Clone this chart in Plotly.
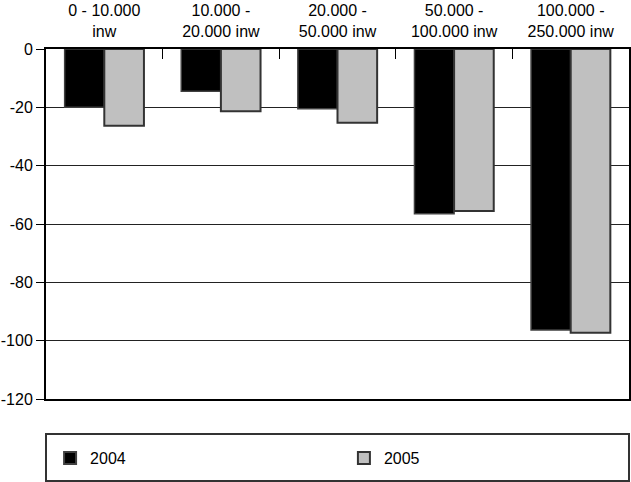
import plotly.graph_objects as go

categories = ["0 - 10.000<br>inw", "10.000 -<br>20.000 inw", "20.000 -<br>50.000 inw",
              "50.000 -<br>100.000 inw", "100.000 -<br>250.000 inw"]
values_2004 = [-20, -14.5, -20.5, -56.5, -96.3]
values_2005 = [-26.3, -21.3, -25.3, -55.5, -97.3]
y_ticks = [0, -20, -40, -60, -80, -100, -120]
y_tick_labels = ["0", "-20", "-40", "-60", "-80", "-100", "-120"]

FONT = "Liberation Sans"

fig = go.Figure()
fig.add_bar(name="2004", x=categories, y=values_2004, legend="legend",
            marker=dict(color="#000000", line=dict(color="#404040", width=1.5)))
fig.add_bar(name="2005", x=categories, y=values_2005, legend="legend2",
            marker=dict(color="#c0c0c0", line=dict(color="#333333", width=2)))

leg_common = dict(orientation="h", y=-0.169, xanchor="left", yanchor="middle",
                  bgcolor="rgba(0,0,0,0)", borderwidth=0,
                  font=dict(family=FONT, size=16), itemsizing="constant")

fig.update_layout(
    width=631, height=482,
    margin=dict(l=46, r=2, t=49, b=83, autoexpand=False),
    paper_bgcolor="white", plot_bgcolor="white",
    font=dict(family=FONT, size=16, color="black"),
    barmode="group", bargap=0.32, bargroupgap=0,
    showlegend=True,
    legend=dict(x=0.007, **leg_common),
    legend2=dict(x=0.511, **leg_common),
    xaxis=dict(side="top", type="category", showline=True, linecolor="black", linewidth=1.5,
               mirror=True, ticks="inside", ticklen=10, tickcolor="black",
               tickson="boundaries", showgrid=False, ticklabelstandoff=4,
               tickfont=dict(family=FONT, size=16)),
    yaxis=dict(range=[-120, 0], tickvals=y_ticks, ticktext=y_tick_labels, showline=True,
               linecolor="black", linewidth=2, mirror=True, ticks="outside", ticklen=8,
               tickcolor="black", showgrid=True, gridcolor="#222222", gridwidth=1,
               zeroline=False, tickfont=dict(family=FONT, size=16)),
    shapes=[dict(type="rect", xref="paper", yref="paper", x0=0, x1=1,
                 y0=-0.234, y1=-0.1, line=dict(color="#333333", width=2),
                 fillcolor="rgba(0,0,0,0)")],
)

fig.write_html("out.html")
